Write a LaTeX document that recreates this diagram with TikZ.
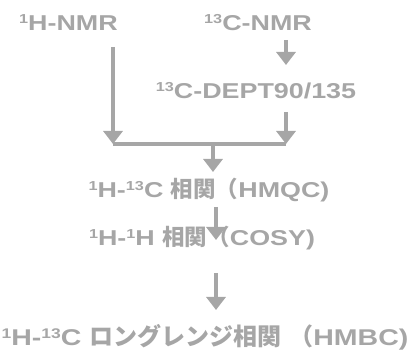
\documentclass[tikz,border=0pt]{standalone}
\usepackage{fontspec}
\usetikzlibrary{arrows.meta}
\newfontfamily\latf[FakeStretch=1.25]{Liberation Sans}
\newfontfamily\jpf{Noto Sans CJK JP}
\definecolor{fg}{HTML}{A6A6A6}
\newcommand\sups[1]{\raisebox{7pt}{\fontsize{13}{13}\selectfont #1}}
\newcommand\lt[1]{{\latf\bfseries\fontsize{21.5}{25}\selectfont #1}}
\newcommand\jt[1]{{\jpf\bfseries\fontsize{22.5}{25}\selectfont #1}}
\newcommand\ltb[1]{{\latf\bfseries\fontsize{22.8}{26}\selectfont #1}}
\newcommand\jtb[1]{{\jpf\bfseries\fontsize{24}{26}\selectfont #1}}
\newcommand\supsb[1]{\raisebox{7.5pt}{\fontsize{14}{14}\selectfont #1}}
\begin{document}
\begin{tikzpicture}[x=1pt,y=1pt,
  txt/.style={anchor=base, inner sep=0pt, text=fg},
  arr/.style={draw=fg, line width=3.5pt, -{Triangle[width=19pt,length=13pt]}},
  ln/.style={draw=fg, line width=3.5pt}]
\useasboundingbox (0,0) rectangle (410,353);
\node[txt] (h1) at (68.5,322) {\lt{\sups{1}H-NMR}};
\node[txt] (c13) at (258,322) {\lt{\sups{13}C-NMR}};
\node[txt] (dept) at (256,254) {\lt{\sups{13}C-DEPT90/135}};
\node[txt] (hmqc) at (209,155) {\lt{\sups{1}H-\sups{13}C }\jt{相関（}\lt{HMQC)}};
\node[txt] (cosy) at (202,107) {\lt{\sups{1}H-\sups{1}H }\jt{相関（}\lt{COSY)}};
\node[txt] (hmbc) at (205,7) {\ltb{\supsb{1}H-\supsb{13}C }\jtb{ロングレンジ相関\hspace{8pt}（}\ltb{HMBC)}};
\coordinate (jl) at (113,209);
\coordinate (jr) at (286,209);
\coordinate (jc) at (213,209);
\draw[arr] ([yshift=-16pt]h1.base -| jl) -- (jl);
\draw[ln] (jl) -- (jr);
\draw[arr] ([yshift=-9pt]c13.base -| jr) -- ([yshift=34pt]dept.base -| jr);
\draw[arr] ([yshift=-13pt]dept.base -| jr) -- (jr);
\draw[arr] (jc) -- ([yshift=26pt]hmqc.base -| jc);
\draw[arr] ([xshift=7pt,yshift=-9pt]hmqc.base) -- ([xshift=14pt,yshift=6pt]cosy.base);
\draw[arr] ([xshift=14pt,yshift=-27pt]cosy.base) -- ([xshift=11pt,yshift=36pt]hmbc.base);
\end{tikzpicture}
\end{document}
